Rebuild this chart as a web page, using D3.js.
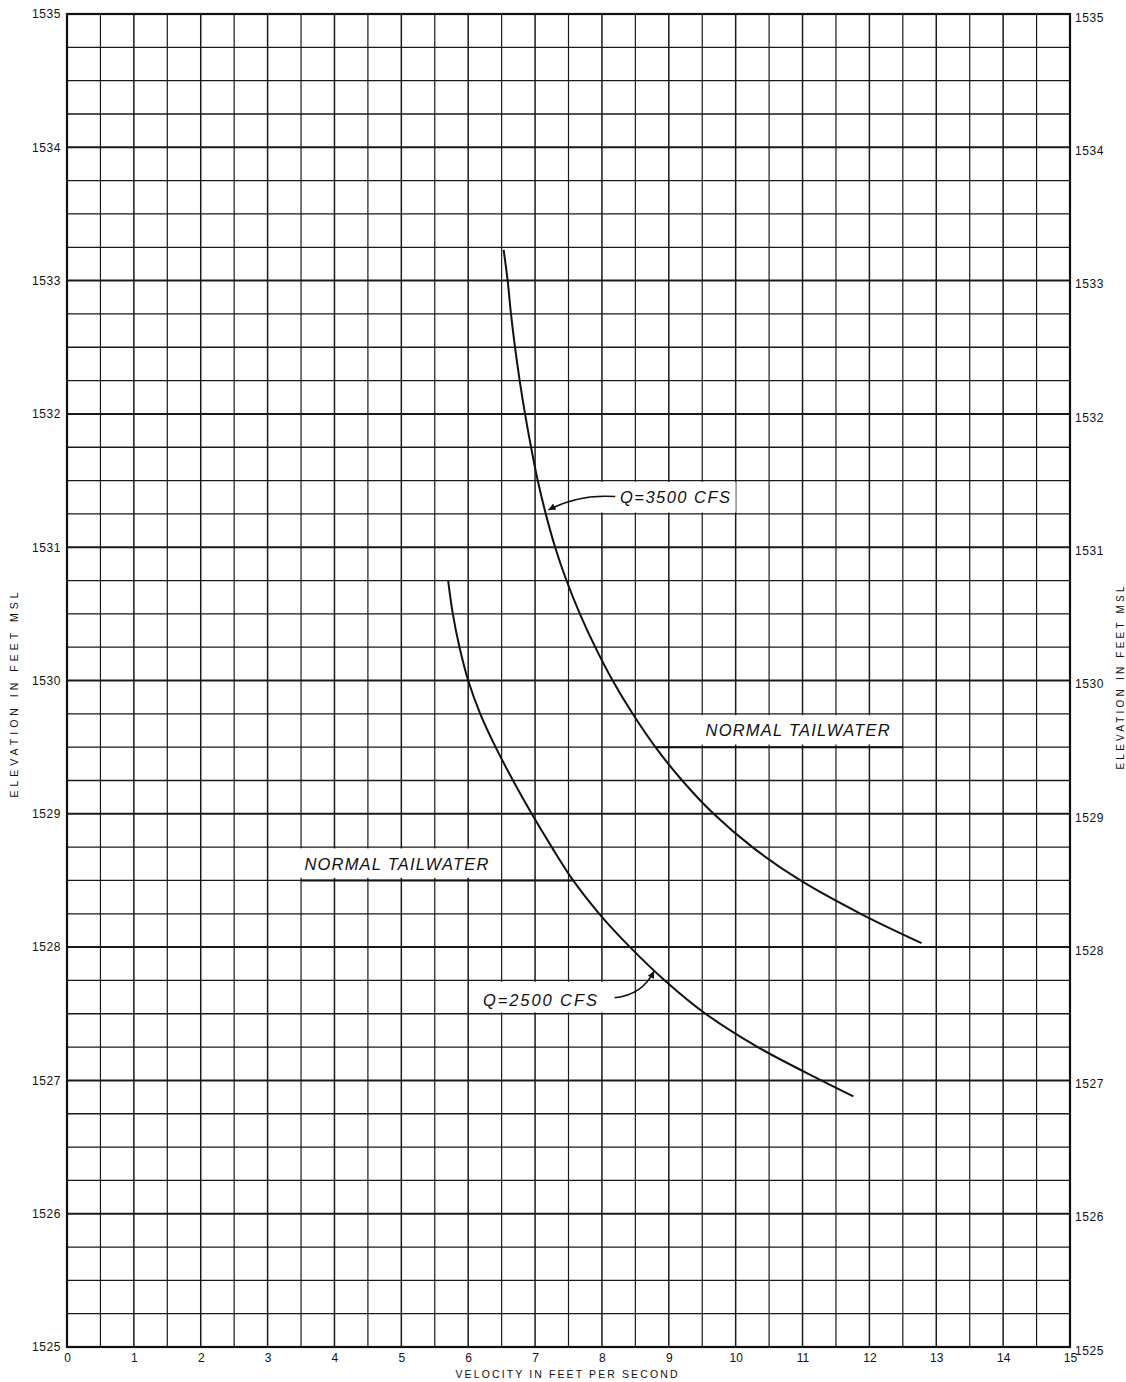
<!DOCTYPE html>
<html>
<head>
<meta charset="utf-8">
<script src="https://cdn.jsdelivr.net/npm/d3@7"></script>
<style>
  html, body { margin: 0; padding: 0; background: #fff; }
  svg { display: block; }
</style>
</head>
<body>
<div id="chart"></div>
<script>
// ---- data ----
const xTicks = [0,1,2,3,4,5,6,7,8,9,10,11,12,13,14,15];
const yTicks = [1525,1526,1527,1528,1529,1530,1531,1532,1533,1534,1535];

const velocity3500 = [6.53, 6.59, 6.64, 6.70, 6.77, 6.85, 6.94, 7.04, 7.16, 7.30, 7.47, 7.67, 7.90, 8.16, 8.46, 8.80, 9.20, 9.67, 10.25, 10.97, 11.87, 12.78];
const elevation3500 = [1533.23, 1533.0, 1532.75, 1532.5, 1532.25, 1532.0, 1531.75, 1531.5, 1531.25, 1531.0, 1530.75, 1530.5, 1530.25, 1530.0, 1529.75, 1529.5, 1529.25, 1529.0, 1528.75, 1528.5, 1528.25, 1528.03];

const velocity2500 = [5.70, 5.77, 5.87, 6.00, 6.18, 6.41, 6.67, 6.95, 7.25, 7.57, 7.96, 8.42, 8.94, 9.55, 10.33, 11.28, 11.76];
const elevation2500 = [1530.75, 1530.5, 1530.25, 1530.0, 1529.75, 1529.5, 1529.25, 1529.0, 1528.75, 1528.5, 1528.25, 1528.0, 1527.75, 1527.5, 1527.25, 1527.0, 1526.88];

const tailwaterLevels = [1529.5, 1528.5];
const tailwaterStart = [8.8, 3.5];
const tailwaterEnd = [12.5, 7.57];
const tailwaterLabel = ["NORMAL TAILWATER", "NORMAL TAILWATER"];

const curveLabels = ["Q=3500 CFS", "Q=2500 CFS"];

// ---- layout ----
const W = 1126, H = 1382;
const mLeft = 67, mRight = 1070, mTop = 14, mBottom = 1347;

const x = d3.scaleLinear().domain([0, 15]).range([mLeft, mRight]);
const y = d3.scaleLinear().domain([1525, 1535]).range([mBottom, mTop]);

const svg = d3.select("#chart").append("svg")
  .attr("width", W).attr("height", H)
  .attr("viewBox", `0 0 ${W} ${H}`);

svg.append("rect").attr("width", W).attr("height", H).attr("fill", "#fff");

const defs = svg.append("defs");
defs.append("marker")
  .attr("id", "arrow")
  .attr("viewBox", "0 0 10 10")
  .attr("refX", 10).attr("refY", 5)
  .attr("markerWidth", 9).attr("markerHeight", 7)
  .attr("markerUnits", "userSpaceOnUse")
  .attr("orient", "auto")
  .append("path").attr("d", "M0,0 L10,5 L0,10 Z").attr("fill", "#111");

// ---- grid ----
const g = svg.append("g");
const vLines = d3.range(0, 15.001, 0.5);
const hLines = d3.range(1525, 1535.001, 0.25);

g.selectAll(".vl").data(vLines).join("line")
  .attr("x1", d => x(d)).attr("x2", d => x(d))
  .attr("y1", mTop).attr("y2", mBottom)
  .attr("stroke", "#1a1a1a")
  .attr("stroke-width", d => Math.abs(d - Math.round(d)) < 1e-6 ? 1.5 : 1.2);

g.selectAll(".hl").data(hLines).join("line")
  .attr("x1", mLeft).attr("x2", mRight)
  .attr("y1", d => y(d)).attr("y2", d => y(d))
  .attr("stroke", "#1a1a1a")
  .attr("stroke-width", d => Math.abs(d - Math.round(d)) < 1e-6 ? 2 : 1.3);

// frame
svg.append("rect")
  .attr("x", mLeft).attr("y", mTop)
  .attr("width", mRight - mLeft).attr("height", mBottom - mTop)
  .attr("fill", "none").attr("stroke", "#111").attr("stroke-width", 2.2);

// ---- axes via d3 ----
const tickFont = "'Liberation Sans', Arial, sans-serif";

const xAxis = svg.append("g").attr("transform", `translate(0,${mBottom})`)
  .call(d3.axisBottom(x).tickValues(xTicks).tickSize(0).tickPadding(6).tickFormat(d3.format("d")));
xAxis.select(".domain").remove();
xAxis.selectAll("text").attr("font-family", tickFont).attr("font-size", 12).attr("fill", "#111");

const yAxisL = svg.append("g").attr("transform", `translate(${mLeft},0)`)
  .call(d3.axisLeft(y).tickValues(yTicks).tickSize(0).tickPadding(6).tickFormat(d3.format("d")));
yAxisL.select(".domain").remove();
yAxisL.selectAll("text").attr("font-family", tickFont).attr("font-size", 12)
  .attr("letter-spacing", 0.6).attr("fill", "#111");

const yAxisR = svg.append("g").attr("transform", `translate(${mRight},0)`)
  .call(d3.axisRight(y).tickValues(yTicks).tickSize(0).tickPadding(5).tickFormat(d3.format("d")));
yAxisR.select(".domain").remove();
yAxisR.selectAll("text").attr("font-family", tickFont).attr("font-size", 12)
  .attr("letter-spacing", 0.6).attr("fill", "#111").attr("dy", "0.6em");

// axis titles
svg.append("text")
  .attr("x", (mLeft + mRight) / 2 - 2).attr("y", 1378)
  .attr("text-anchor", "middle")
  .attr("font-family", tickFont).attr("font-size", 10.5)
  .attr("textLength", 222).attr("lengthAdjust", "spacing")
  .attr("fill", "#111")
  .text("VELOCITY IN FEET PER SECOND");

svg.append("text")
  .attr("transform", "translate(18,695) rotate(-90)")
  .attr("text-anchor", "middle")
  .attr("font-family", tickFont).attr("font-size", 10.5)
  .attr("textLength", 205).attr("lengthAdjust", "spacing")
  .attr("fill", "#111")
  .text("ELEVATION IN FEET MSL");

svg.append("text")
  .attr("transform", "translate(1124,678) rotate(-90)")
  .attr("text-anchor", "middle")
  .attr("font-family", tickFont).attr("font-size", 10)
  .attr("textLength", 183).attr("lengthAdjust", "spacing")
  .attr("fill", "#111")
  .text("ELEVATION IN FEET MSL");

// ---- label boxes (white masks over grid) ----
const labelFont = "'Liberation Sans', Arial, sans-serif";
// box definitions in data units: [v0, v1, e0, e1]
const boxes = [
  [9.48, 12.45, 1529.52, 1529.74],   // upper NORMAL TAILWATER
  [3.47, 6.45, 1528.52, 1528.74],    // lower NORMAL TAILWATER
  [7.98, 10.0, 1531.26, 1531.49],    // Q=3500
  [6.07, 8.15, 1527.51, 1527.74]     // Q=2500
];
svg.selectAll(".box").data(boxes).join("rect")
  .attr("x", d => x(d[0])).attr("y", d => y(d[3]))
  .attr("width", d => x(d[1]) - x(d[0])).attr("height", d => y(d[2]) - y(d[3]))
  .attr("fill", "#fff");

// ---- tailwater lines ----
svg.selectAll(".tw").data(tailwaterLevels).join("line")
  .attr("x1", (d, i) => x(tailwaterStart[i])).attr("x2", (d, i) => x(tailwaterEnd[i]))
  .attr("y1", d => y(d)).attr("y2", d => y(d))
  .attr("stroke", "#111").attr("stroke-width", 2);

// labels for tailwater
const twText = [[9.55, 1529.55], [3.55, 1528.55]];
svg.selectAll(".twl").data(twText).join("text")
  .attr("x", d => x(d[0])).attr("y", d => y(d[1]) - 4)
  .attr("font-family", labelFont).attr("font-style", "italic")
  .attr("font-size", 16.5).attr("fill", "#111")
  .attr("textLength", 184).attr("lengthAdjust", "spacing")
  .text((d, i) => tailwaterLabel[i]);

// ---- curves ----
const line = d3.line().x(d => x(d[0])).y(d => y(d[1])).curve(d3.curveCatmullRom.alpha(0.5));
const s3500 = velocity3500.map((v, i) => [v, elevation3500[i]]);
const s2500 = velocity2500.map((v, i) => [v, elevation2500[i]]);

svg.append("path").datum(s3500).attr("d", line)
  .attr("fill", "none").attr("stroke", "#111").attr("stroke-width", 2);
svg.append("path").datum(s2500).attr("d", line)
  .attr("fill", "none").attr("stroke", "#111").attr("stroke-width", 2);

// ---- curve labels with arrows ----
const cText = [[8.27, 1531.33], [6.22, 1527.56]];
svg.selectAll(".cl").data(cText).join("text")
  .attr("x", d => x(d[0])).attr("y", d => y(d[1]))
  .attr("font-family", labelFont).attr("font-style", "italic")
  .attr("font-size", 16.5).attr("fill", "#111")
  .attr("textLength", (d, i) => i === 0 ? 110 : 114).attr("lengthAdjust", "spacing")
  .text((d, i) => curveLabels[i]);

// arrows: [start, control, end] in data units
const arrows = [
  [[8.2, 1531.38], [7.65, 1531.4], [7.2, 1531.28]],
  [[8.19, 1527.62], [8.6, 1527.64], [8.78, 1527.82]]
];
svg.selectAll(".ar").data(arrows).join("path")
  .attr("d", d => `M${x(d[0][0])},${y(d[0][1])} Q${x(d[1][0])},${y(d[1][1])} ${x(d[2][0])},${y(d[2][1])}`)
  .attr("fill", "none").attr("stroke", "#111").attr("stroke-width", 1.5)
  .attr("marker-end", "url(#arrow)");
</script>
</body>
</html>
